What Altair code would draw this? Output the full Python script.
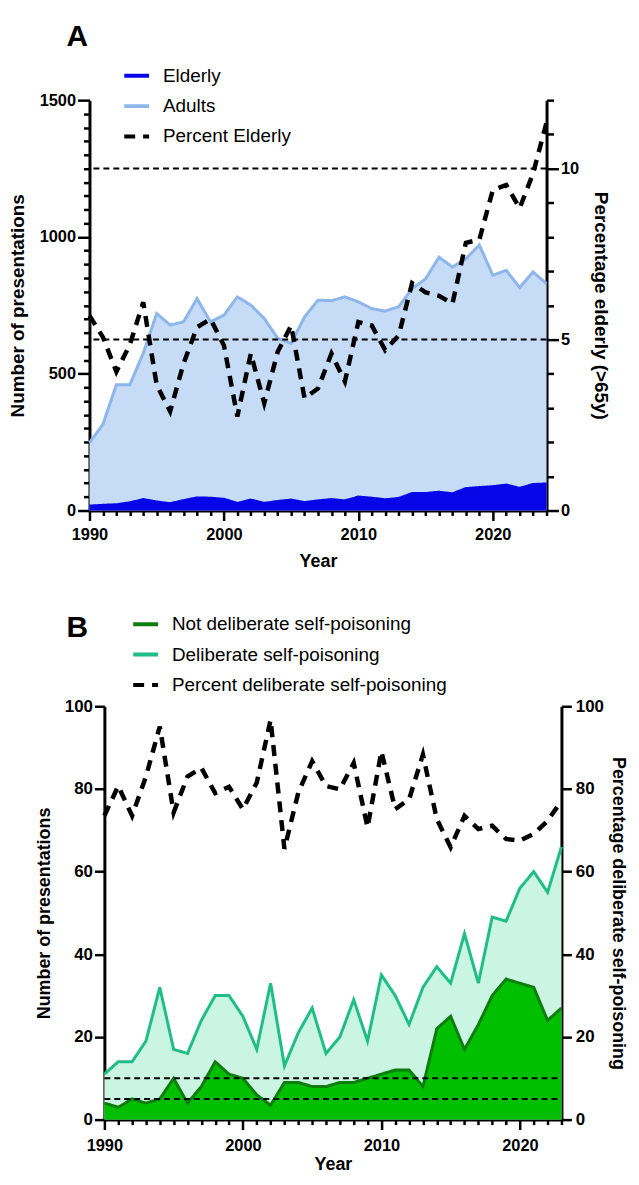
import altair as alt
import pandas as pd

FONT = "Liberation Sans"

# ---------------- Panel A data ----------------
years_a = list(range(1990, 2025))
adults = [248, 315, 460, 460, 575, 720, 678, 690, 775, 690, 714, 781, 751, 702, 630,
          611, 708, 769, 767, 781, 763, 738, 729, 745, 811, 847, 926, 890, 920, 971,
          860, 878, 815, 872, 829]
elderly = [18, 21, 23, 30, 42, 33, 27, 38, 48, 47, 43, 28, 40, 28, 35,
           40, 31, 37, 42, 37, 51, 47, 41, 46, 64, 64, 69, 63, 82, 86,
           89, 95, 83, 97, 99]
pct_elderly = [5.7, 5.07, 4.06, 4.85, 6.09, 3.67, 2.90, 4.30, 5.36, 5.60, 4.83, 2.75, 4.59, 3.14, 4.64,
               5.41, 3.28, 3.57, 4.59, 3.77, 5.51, 5.41, 4.69, 5.12, 6.65, 6.38, 6.28, 6.05, 7.83, 7.92,
               9.37, 9.52, 8.84, 9.86, 11.35]
ref_a = [5, 10]
series_a = ["Elderly", "Adults", "Percent Elderly"]

# ---------------- Panel B data ----------------
years_b = list(range(1990, 2024))
deliberate = [11, 14, 14, 19, 32, 17, 16, 24, 30, 30, 25, 17, 33, 13, 21, 27, 16,
              20, 29, 19, 35, 30, 23, 32, 37, 33, 45, 33, 49, 48, 56, 60, 55, 66]
not_deliberate = [4, 3, 5, 4, 5, 10, 4, 8, 14, 11, 10, 6, 3.5, 9, 9, 8, 8,
                  9, 9, 10, 11, 12, 12, 8, 22, 25, 17, 23, 30, 34, 33, 32, 24, 27]
pct_deliberate = [73.5, 80.7, 73.5, 83, 95.1, 74.3, 83, 85.1, 79, 80.5, 75.1, 81.5, 96.7, 65.5, 79.1,
                  86.7, 80.7, 79.9, 86.3, 70.7, 89.1, 75.1, 77.5, 88.3, 72.7, 65.9, 73.5, 70.3,
                  71.1, 67.9, 67.5, 69.1, 72.3, 77.1]
ref_b = [5, 10]
series_b = ["Not deliberate self-poisoning", "Deliberate self-poisoning",
            "Percent deliberate self-poisoning"]

# ---------------- styles ----------------
ELD = "#0606E8"
ADL_LINE = "#8DB6EB"
ADL_FILL = "#C6DBF5"
ND_LINE = "#0E7D0E"
ND_FILL = "#00BF00"
D_LINE = "#1FBE86"
D_FILL = "#CAF5E3"
DASH = [11, 8]

AX = dict(domainColor="black", domainWidth=3, tickColor="black", tickWidth=2.5,
          labelColor="black", labelFont=FONT, labelFontWeight="bold",
          titleColor="black", titleFont=FONT, titleFontWeight="bold", grid=False)


def tick_cond(mod, big, small):
    return {"condition": {"test": f"datum.value % {mod} === 0", "value": big}, "value": small}


def year_x(last, lp, tp, rng=None):
    sc = dict(domain=[1990, last], nice=False, zero=False)
    if rng is not None:
        sc["range"] = rng
    return alt.X("Year:Q", title="Year", scale=alt.Scale(**sc),
                 axis=alt.Axis(values=list(range(1990, last + 1)), format="d",
                               labelExpr="datum.value % 10 === 0 ? datum.label : ''",
                               tickSize=tick_cond(10, 10, 5), labelPadding=lp,
                               labelFontSize=16.5, titleFontSize=18, titlePadding=tp,
                               labelFlush=False, **AX))


def legend(x, y):
    return alt.Legend(orient="none", legendX=x, legendY=y, title=None, symbolType="stroke",
                      symbolSize=625, symbolStrokeWidth=4, labelFontSize=19, labelFont=FONT,
                      labelColor="black", labelOffset=12, rowPadding=5.5, padding=0,
                      labelLimit=0)


# ---------------- Panel A ----------------
dfA = pd.DataFrame({"Year": years_a, "Adults": adults, "Elderly": elderly, "Percent": pct_elderly})
xA = year_x(2024, 6, 10)
legA = legend(33, -39)
colA = alt.Color("series:N", scale=alt.Scale(domain=series_a, range=[ELD, ADL_LINE, "black"]), legend=legA)
dashA = alt.StrokeDash("series:N", scale=alt.Scale(domain=series_a, range=[[1, 0], [1, 0], DASH]), legend=legA)


def yA(field):
    return alt.Y(f"{field}:Q", title="Number of presentations",
                 scale=alt.Scale(domain=[0, 1500], nice=False),
                 axis=alt.Axis(orient="left", values=list(range(0, 1501, 50)), format="d",
                               labelExpr="datum.value % 500 === 0 ? datum.label : ''",
                               tickSize=tick_cond(500, 12, 6), labelFontSize=16.5,
                               titleFontSize=19, titlePadding=12, **AX))


def yAR(field):
    return alt.Y(f"{field}:Q", title="Percentage elderly (>65y)",
                 scale=alt.Scale(domain=[0, 12], nice=False),
                 axis=alt.Axis(orient="right", values=list(range(0, 13)), format="d",
                               labelExpr="datum.value % 5 === 0 ? datum.label : ''",
                               tickSize=tick_cond(5, 12, 7), labelFontSize=16.5,
                               titleFontSize=19, titlePadding=12, **AX))


baseA = alt.Chart(dfA)
leftA = alt.layer(
    baseA.mark_area(color=ADL_FILL, opacity=1).encode(x=xA, y=yA("Adults")),
    baseA.transform_calculate(series="'Adults'").mark_line(strokeWidth=3)
    .encode(x=xA, y=yA("Adults"), color=colA, strokeDash=dashA),
    baseA.mark_area(color=ELD, opacity=1).encode(x=xA, y=yA("Elderly")),
    baseA.transform_calculate(series="'Elderly'").mark_line(strokeWidth=2)
    .encode(x=xA, y=yA("Elderly"), color=colA, strokeDash=dashA),
)
rightA = alt.layer(
    alt.Chart(pd.DataFrame({"Percent": ref_a})).mark_rule(color="black", strokeWidth=2, strokeDash=[6, 4])
    .encode(y=yAR("Percent")),
    baseA.transform_calculate(series="'Percent Elderly'").mark_line(strokeWidth=4.5)
    .encode(x=xA, y=yAR("Percent"), color=colA, strokeDash=dashA),
)
chartA = alt.layer(leftA, rightA).resolve_scale(y="independent").properties(
    width=460, height=413,
    title=alt.TitleParams("A", anchor="start", frame="group", dx=-23, fontSize=30,
                          fontWeight="bold", font=FONT, color="black", offset=10))

# ---------------- Panel B ----------------
# panel B's plot is shifted 15px to the right of panel A's: wider group, x range starts at 15
SHIFT = 15
dfB = pd.DataFrame({"Year": years_b, "Deliberate": deliberate, "NotDeliberate": not_deliberate,
                    "Percent": pct_deliberate})
xB = year_x(2023, 8, 2, rng=[SHIFT, 460 + SHIFT])
legB = legend(27 + SHIFT, -97)
colB = alt.Color("series:N", scale=alt.Scale(domain=series_b, range=[ND_LINE, D_LINE, "black"]), legend=legB)
dashB = alt.StrokeDash("series:N", scale=alt.Scale(domain=series_b, range=[[1, 0], [1, 0], DASH]), legend=legB)


def yB(field, right=False):
    return alt.Y(f"{field}:Q",
                 title="Percentage deliberate self-poisoning" if right else "Number of presentations",
                 scale=alt.Scale(domain=[0, 100], nice=False),
                 axis=alt.Axis(orient="right" if right else "left", values=list(range(0, 101, 20)),
                               tickSize=10, labelFontSize=17, titleFontSize=18,
                               labelPadding=4 if right else 2, offset=0 if right else -SHIFT,
                               titlePadding=5 if right else 11, **AX))


baseB = alt.Chart(dfB)
leftB = alt.layer(
    baseB.mark_area(color=D_FILL, opacity=1).encode(x=xB, y=yB("Deliberate")),
    baseB.transform_calculate(series="'Deliberate self-poisoning'").mark_line(strokeWidth=3)
    .encode(x=xB, y=yB("Deliberate"), color=colB, strokeDash=dashB),
    baseB.mark_area(color=ND_FILL, opacity=1).encode(x=xB, y=yB("NotDeliberate")),
    baseB.transform_calculate(series="'Not deliberate self-poisoning'").mark_line(strokeWidth=3)
    .encode(x=xB, y=yB("NotDeliberate"), color=colB, strokeDash=dashB),
)
rightB = alt.layer(
    alt.Chart(pd.DataFrame({"Percent": ref_b})).mark_rule(color="black", strokeWidth=2, strokeDash=[6, 4])
    .encode(x=alt.value(SHIFT), x2=alt.value(460 + SHIFT), y=yB("Percent", True)),
    baseB.transform_calculate(series="'Percent deliberate self-poisoning'").mark_line(strokeWidth=4.5)
    .encode(x=xB, y=yB("Percent", True), color=colB, strokeDash=dashB),
)
chartB = alt.layer(leftB, rightB).resolve_scale(y="independent").properties(
    width=460 + SHIFT, height=416,
    title=alt.TitleParams("B", anchor="start", frame="group", dx=-23, fontSize=30,
                          fontWeight="bold", font=FONT, color="black", offset=-33))

chart = (
    alt.vconcat(chartA, chartB, spacing=39)
    .resolve_scale(color="independent", strokeDash="independent")
    .resolve_legend(color="independent", strokeDash="independent")
    .properties(padding={"left": 0, "top": 10, "right": 4, "bottom": 0})
    .configure_view(stroke=None)
)

chart.save("out.html", embed_options={"renderer": "svg", "actions": False})
